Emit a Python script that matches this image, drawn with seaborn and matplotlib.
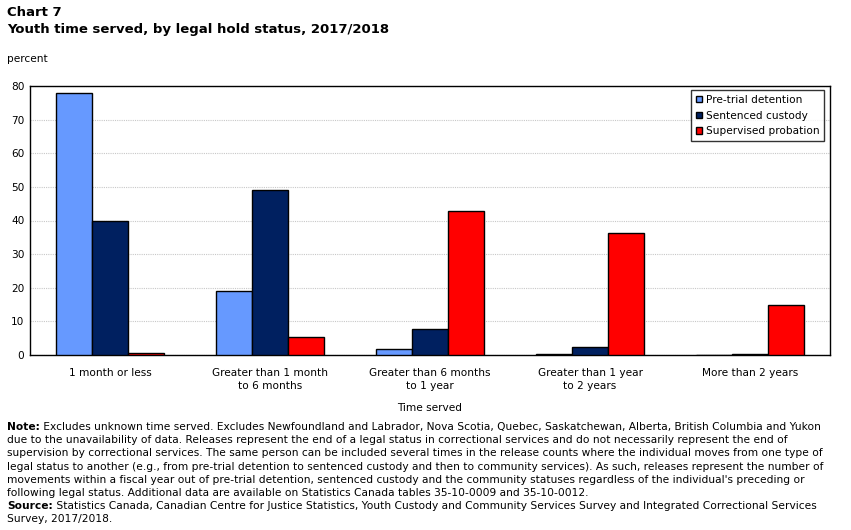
import matplotlib
matplotlib.use('Agg')
import matplotlib.pyplot as plt
import pandas as pd
import seaborn as sns

# data
categories = ['1 month or less', 'Greater than 1 month\nto 6 months',
              'Greater than 6 months\nto 1 year', 'Greater than 1 year\nto 2 years',
              'More than 2 years']
statuses = ['Pre-trial detention', 'Sentenced custody', 'Supervised probation']
pretrial = [78.0, 19.1, 1.8, 0.4, 0.1]
sentenced = [39.9, 49.1, 7.8, 2.4, 0.4]
probation = [0.5, 5.4, 42.8, 36.3, 14.9]
colors = ['#6699FF', '#002060', '#FF0000']

title_lines = ['Chart 7', 'Youth time served, by legal hold status, 2017/2018']
note_lines = [
    ('Note:', ' Excludes unknown time served. Excludes Newfoundland and Labrador, Nova Scotia, Quebec, Saskatchewan, Alberta, British Columbia and Yukon'),
    ('', 'due to the unavailability of data. Releases represent the end of a legal status in correctional services and do not necessarily represent the end of'),
    ('', 'supervision by correctional services. The same person can be included several times in the release counts where the individual moves from one type of'),
    ('', 'legal status to another (e.g., from pre-trial detention to sentenced custody and then to community services). As such, releases represent the number of'),
    ('', "movements within a fiscal year out of pre-trial detention, sentenced custody and the community statuses regardless of the individual's preceding or"),
    ('', 'following legal status. Additional data are available on Statistics Canada tables 35-10-0009 and 35-10-0012.'),
    ('Source:', ' Statistics Canada, Canadian Centre for Justice Statistics, Youth Custody and Community Services Survey and Integrated Correctional Services'),
    ('', 'Survey, 2017/2018.'),
]

df = pd.DataFrame({
    'category': categories * 3,
    'status': [statuses[0]] * 5 + [statuses[1]] * 5 + [statuses[2]] * 5,
    'value': pretrial + sentenced + probation,
})

sns.set_style('white')
plt.rcParams['font.family'] = ['DejaVu Sans']
plt.rcParams['text.color'] = 'black'

W, H = 851, 530
fig = plt.figure(figsize=(W / 100, H / 100), dpi=100)
ax = fig.add_axes([30 / W, 1 - 355 / H, 800 / W, 269 / H])

sns.barplot(data=df, x='category', y='value', hue='status', order=categories,
            hue_order=statuses, palette=colors, width=0.675, edgecolor='black',
            linewidth=1, saturation=1, ax=ax, zorder=3)

ax.set_ylim(0, 80)
ax.set_yticks(range(0, 81, 10))
ax.set_xlim(-0.5, 4.5)
ax.grid(axis='y', color='#c8c8c8', linestyle=(0, (1, 1)), linewidth=0.8, zorder=0)
ax.set_axisbelow(True)
for s in ax.spines.values():
    s.set_color('black')
    s.set_linewidth(1)
ax.tick_params(axis='both', labelsize=7.6, colors='black', length=0, pad=4)
ax.tick_params(axis='x', pad=9)
for lbl in ax.get_xticklabels():
    lbl.set_linespacing(1.4)
ax.set_xlabel('Time served', fontsize=7.6, labelpad=9, color='black')
ax.set_ylabel('')

leg = ax.legend(loc='upper right', fontsize=7.6, frameon=True, fancybox=False,
                edgecolor='black', handlelength=0.6, handleheight=0.6,
                handletextpad=0.3, borderpad=0.45, labelspacing=0.55,
                borderaxespad=0, bbox_to_anchor=(0.9925, 0.985))
leg.get_frame().set_linewidth(1)

fig.text(7 / W, 1 - 12 / H, title_lines[0], fontsize=9.5, fontweight='bold', va='center')
fig.text(7 / W, 1 - 30 / H, title_lines[1], fontsize=9.5, fontweight='bold', va='center')
fig.text(7 / W, 1 - 59 / H, 'percent', fontsize=7.6, va='center')

renderer = fig.canvas.get_renderer()
y0 = 427
for i, (bold, rest) in enumerate(note_lines):
    y = 1 - (y0 + i * 13.2) / H
    x = 7 / W
    if bold:
        t = fig.text(x, y, bold, fontsize=7.7, fontweight='bold', va='center')
        x += t.get_window_extent(renderer).width / W
    fig.text(x, y, rest, fontsize=7.7, va='center')

fig.savefig('out.png', dpi=100, facecolor='white')
